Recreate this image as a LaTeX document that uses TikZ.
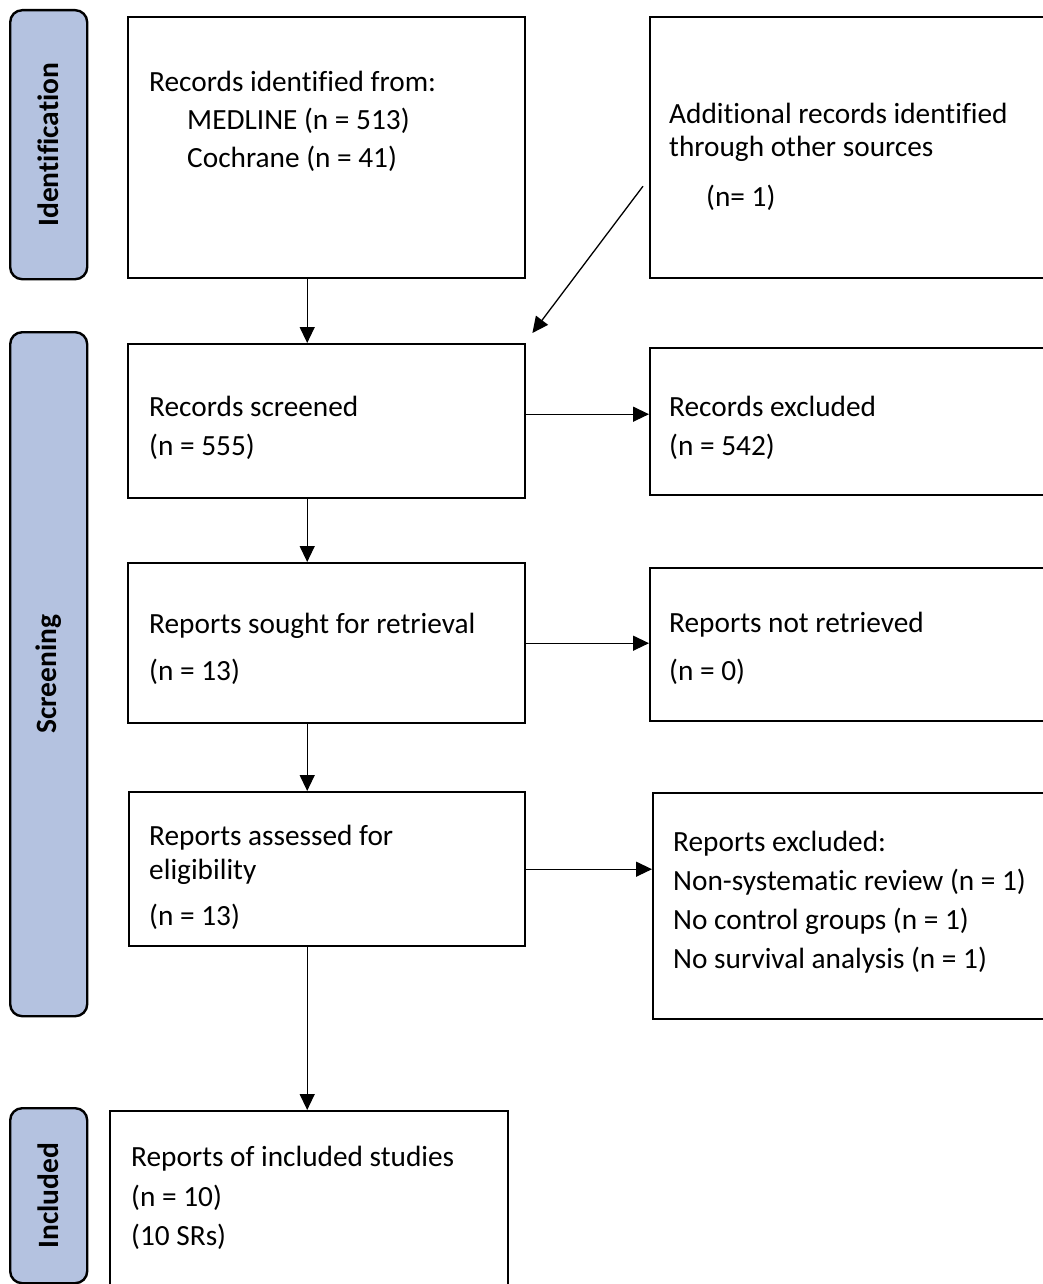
\documentclass[tikz,border=0pt]{standalone}
\usepackage{fontspec}
\setmainfont{Carlito}[Ligatures=CommonOff]
\usetikzlibrary{arrows.meta}
\definecolor{stagefill}{RGB}{180,194,224}
\tikzset{
  box/.style={draw=black, line width=2.4pt, rectangle, inner sep=0pt, anchor=north west},
  stage/.style={draw=black, line width=2.4pt, fill=stagefill, rounded corners=12pt,
                inner sep=0pt, anchor=north west},
  stagelabel/.style={font=\fontsize{29.5}{34}\selectfont\bfseries, rotate=90, inner sep=0pt},
  txt/.style={font=\fontsize{29.3}{38}\selectfont, anchor=west, inner sep=0pt,
              text height=0.72em, text depth=0.25em},
  flow/.style={line width=1.3pt, -{Triangle[length=16pt,width=15pt]}},
}
\begin{document}
\begin{tikzpicture}[x=1pt, y=-1pt]
\useasboundingbox (0,0) rectangle (1043,1284);
\clip (0,0) rectangle (1043,1284);

% stage bars on the left
\node[stage, minimum width=77pt, minimum height=269pt] (sid) at (9,9) {};
\node[stagelabel] (sidl) at (sid.center) {Identification};
\node[stage, minimum width=77pt, minimum height=684pt] (sscr) at (9,331) {};
\node[stagelabel] (sscrl) at (sscr.center) {Screening};
\node[stage, minimum width=77pt, minimum height=175pt] (sinc) at (9,1107) {};
\node[stagelabel] (sincl) at (sinc.center) {Included};

% boxes
\node[box, minimum width=397pt, minimum height=261pt] (ident)  at (127,16)  {};
\node[box, minimum width=420pt, minimum height=261pt] (other)  at (649,16)  {};
\node[box, minimum width=397pt, minimum height=154pt] (screen) at (127,343) {};
\node[box, minimum width=420pt, minimum height=147pt] (excl1)  at (649,347) {};
\node[box, minimum width=397pt, minimum height=160pt] (sought) at (127,562) {};
\node[box, minimum width=420pt, minimum height=153pt] (notret) at (649,567) {};
\node[box, minimum width=396pt, minimum height=154pt] (assess) at (128,791) {};
\node[box, minimum width=420pt, minimum height=226pt] (excl2)  at (652,792) {};
\node[box, minimum width=398pt, minimum height=200pt] (incl)   at (109,1110) {};

% texts
\node[txt] (t1) at (149,89)  {Records identified from:};
\node[txt] (t2) at (187,127) {MEDLINE (n = 513)};
\node[txt] (t3) at (187,165) {Cochrane (n = 41)};

\node[txt] (t4) at (669,121) {Additional records identified};
\node[txt] (t5) at (669,154) {through other sources};
\node[txt] (t6) at (706,204) {(n= 1)};

\node[txt] (t7) at (149,414) {Records screened};
\node[txt] (t8) at (149,453) {(n = 555)};
\node[txt] (t9) at (669,414) {Records excluded};
\node[txt] (t10) at (669,453) {(n = 542)};

\node[txt] (t11) at (149,631) {Reports sought for retrieval};
\node[txt] (t12) at (149,678) {(n = 13)};
\node[txt] (t13) at (669,630) {Reports not retrieved};
\node[txt] (t14) at (669,678) {(n = 0)};

\node[txt] (t15) at (149,843) {Reports assessed for};
\node[txt] (t16) at (149,877) {eligibility};
\node[txt] (t17) at (149,923) {(n = 13)};

\node[txt] (t18) at (673,849) {Reports excluded:};
\node[txt] (t19) at (673,888) {Non-systematic review (n = 1)};
\node[txt] (t20) at (673,927) {No control groups (n = 1)};
\node[txt] (t21) at (673,966) {No survival analysis (n = 1)};

\node[txt] (t22) at (131,1164) {Reports of included studies};
\node[txt] (t23) at (131,1204) {(n = 10)};
\node[txt] (t24) at (131,1243) {(10 SRs)};

% connectors
\draw[flow] ([xshift=-19.5pt]ident.south) -- ([xshift=-19.5pt]screen.north);
\draw[flow] ([xshift=-6pt,yshift=-38.5pt]other.west) -- ([xshift=6pt,yshift=10pt]screen.north east);
\draw[flow] ([yshift=7pt]screen.east) coordinate (s1) -- (s1 -| excl1.west);
\draw[flow] ([xshift=-19.5pt]screen.south) -- ([xshift=-19.5pt]sought.north);
\draw[flow] (sought.east) -- (sought.east -| notret.west);
\draw[flow] ([xshift=-19.5pt]sought.south) -- ([xshift=-20pt]assess.north);
\draw[flow] (assess.east) -- (assess.east -| excl2.west);
\draw[flow] ([xshift=-2pt]incl.north) coordinate (i1) (assess.south -| i1) -- (i1);
\end{tikzpicture}
\end{document}
